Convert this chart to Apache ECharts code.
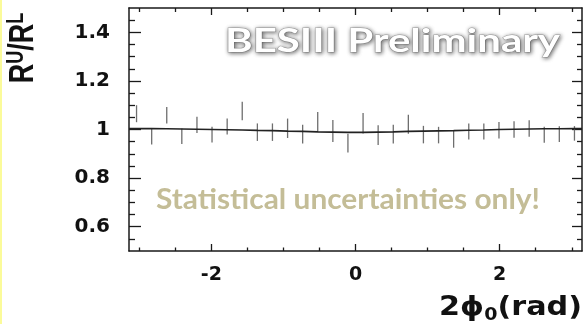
<!DOCTYPE html>
<html>
<head>
<meta charset="utf-8">
<script src="https://cdn.jsdelivr.net/npm/echarts@6/dist/echarts.min.js"></script>
<style>
  html, body { margin: 0; padding: 0; background: #fff; }
  #chart { width: 584px; height: 324px; }
</style>
</head>
<body>
<div id="chart"></div>
<script>
// Ratio R^U/R^L in 30 bins of 2phi0 over [-pi, pi]
const phiCenters = [
  -3.037, -2.827, -2.618, -2.409, -2.199, -1.990, -1.780, -1.571, -1.361, -1.152,
  -0.942, -0.733, -0.524, -0.314, -0.105, 0.105, 0.314, 0.524, 0.733, 0.942,
  1.152, 1.361, 1.571, 1.780, 1.990, 2.199, 2.409, 2.618, 2.827, 3.037
];
const ratioValues = [
  1.065, 0.971, 1.059, 0.972, 1.019, 0.979, 1.012, 1.076, 0.989, 0.989,
  1.005, 0.981, 1.031, 0.994, 0.944, 1.026, 0.977, 0.981, 1.022, 0.979,
  0.977, 0.961, 0.992, 0.992, 0.997, 1.000, 1.004, 0.978, 0.981, 0.984
];
const ratioErrors = [
  0.035, 0.033, 0.034, 0.032, 0.033, 0.032, 0.033, 0.038, 0.036, 0.036,
  0.040, 0.039, 0.041, 0.045, 0.039, 0.042, 0.041, 0.039, 0.039, 0.036,
  0.034, 0.036, 0.033, 0.033, 0.034, 0.034, 0.034, 0.033, 0.032, 0.030
];
// Fitted curve, sampled at the range edges and the bin centres
const fitPhi = [-3.1416].concat(phiCenters, [3.1416]);
const fitValues = [
  1.004,
  1.004, 1.004, 1.003, 1.002, 1.001, 1.000, 0.999, 0.998, 0.996, 0.995,
  0.993, 0.992, 0.990, 0.989, 0.988, 0.988, 0.989, 0.990, 0.992, 0.993,
  0.994, 0.995, 0.997, 0.998, 1.000, 1.001, 1.002, 1.003, 1.003, 1.004,
  1.004
];
// Tick positions
const xMajorTicks = [-2, 0, 2];
const xMinorTicks = [-3, -2.5, -1.5, -1, -0.5, 0.5, 1, 1.5, 2.5, 3];
const yMajorTicks = [0.6, 0.8, 1, 1.2, 1.4];
const yMinorTicks = [0.55, 0.65, 0.7, 0.75, 0.85, 0.9, 0.95, 1.05, 1.1, 1.15, 1.25, 1.3, 1.35, 1.45];

const X_MIN = -Math.PI, X_MAX = Math.PI, Y_MIN = 0.5, Y_MAX = 1.5;
const FRAME = '#1a1a1a';
const LABEL_FONT = 'DejaVu Sans';

function textWidth(text, font) {
  const ctx = document.createElement('canvas').getContext('2d');
  ctx.font = font;
  return ctx.measureText(text).width;
}

function xAxisDef(position, ticks, len, withLine, withLabels) {
  return {
    type: 'value', min: X_MIN, max: X_MAX, position: position,
    axisLine: { show: withLine, onZero: false, lineStyle: { color: FRAME, width: 1.5 } },
    axisTick: { show: true, inside: true, length: len, customValues: ticks,
                lineStyle: { color: FRAME, width: 1.3 } },
    axisLabel: withLabels ? {
      show: true, customValues: ticks, margin: 15,
      fontFamily: LABEL_FONT, fontWeight: 'bold', fontSize: 19, color: '#111',
      formatter: v => String(v)
    } : { show: false },
    splitLine: { show: false }
  };
}
function yAxisDef(position, ticks, len, withLine, withLabels) {
  return {
    type: 'value', min: Y_MIN, max: Y_MAX, position: position,
    axisLine: { show: withLine, onZero: false, lineStyle: { color: FRAME, width: 1.5 } },
    axisTick: { show: true, inside: true, length: len, customValues: ticks,
                lineStyle: { color: FRAME, width: 1.3 } },
    axisLabel: withLabels ? {
      show: true, customValues: ticks, margin: 19,
      fontFamily: LABEL_FONT, fontWeight: 'bold', fontSize: 20, color: '#111',
      formatter: v => String(+v.toFixed(2))
    } : { show: false },
    splitLine: { show: false }
  };
}

const chart = echarts.init(document.getElementById('chart'), null, { renderer: 'canvas' });

const markFont = 'bold 32px Lato';
const markText = 'BESIII Preliminary';
const markScale = 335 / textWidth(markText, markFont);
const noteFont = 'bold 28px Lato';
const noteText = 'Statistical uncertainties only!';
const noteScale = 384 / textWidth(noteText, noteFont);

chart.setOption({
  animation: false,
  backgroundColor: '#ffffff',
  grid: { left: 129, right: 2, top: 8, bottom: 73, containLabel: false },
  xAxis: [
    xAxisDef('bottom', xMajorTicks, 7, true, true),
    xAxisDef('bottom', xMinorTicks, 3.5, false, false),
    xAxisDef('top', xMajorTicks, 7, true, false),
    xAxisDef('top', xMinorTicks, 4, false, false)
  ],
  yAxis: [
    yAxisDef('left', yMajorTicks, 12, true, true),
    yAxisDef('left', yMinorTicks, 6, false, false),
    yAxisDef('right', yMajorTicks, 10, true, false),
    yAxisDef('right', yMinorTicks, 5, false, false)
  ],
  series: [
    {
      type: 'custom',
      xAxisIndex: 0, yAxisIndex: 0,
      data: phiCenters.map((p, i) => [p, ratioValues[i], ratioErrors[i]]),
      renderItem: function (params, api) {
        const x = api.value(0), y = api.value(1), e = api.value(2);
        const top = api.coord([x, y + e]);
        const bot = api.coord([x, y - e]);
        return {
          type: 'line',
          shape: { x1: top[0], y1: top[1], x2: bot[0], y2: bot[1] },
          style: { stroke: '#6e6e6e', lineWidth: 1.3 }
        };
      },
      z: 2
    },
    {
      type: 'line',
      xAxisIndex: 0, yAxisIndex: 0,
      data: fitPhi.map((p, i) => [p, fitValues[i]]),
      symbol: 'none',
      lineStyle: { color: '#222', width: 1.7 },
      z: 3
    }
  ],
  graphic: [
    { type: 'rect', left: 0, top: 0, shape: { width: 2, height: 324 },
      style: { fill: '#fbfb9a' }, silent: true },
    {
      type: 'text', x: 23, y: 48, rotation: Math.PI / 2, scaleY: 1.28,
      style: {
        text: '{m|R}{s|U}{m|/R}{s|L}',
        align: 'center', verticalAlign: 'middle',
        rich: {
          m: { fontFamily: 'Liberation Sans', fontWeight: 'bold', fontSize: 27, lineHeight: 28,
               verticalAlign: 'bottom', fill: '#111' },
          s: { fontFamily: 'Liberation Sans', fontWeight: 'bold', fontSize: 18, lineHeight: 17,
               verticalAlign: 'top', fill: '#111' }
        }
      }
    },
    {
      type: 'text', x: 582, y: 324, scaleX: 1.12,
      style: {
        text: '{m|2ϕ}{s|0}{m|(rad)}',
        align: 'right', verticalAlign: 'bottom',
        rich: {
          m: { fontFamily: 'DejaVu Sans', fontWeight: 'bold', fontSize: 27, lineHeight: 30,
               verticalAlign: 'top', fill: '#111' },
          s: { fontFamily: 'DejaVu Sans', fontWeight: 'bold', fontSize: 17, lineHeight: 18,
               padding: [25, 0, 0, 0], verticalAlign: 'bottom', fill: '#111' }
        }
      }
    },
    {
      type: 'text', x: 225, y: 42, scaleX: markScale, z: 10,
      style: {
        text: markText, font: markFont, align: 'left', verticalAlign: 'middle',
        fill: '#ffffff', stroke: 'rgba(170,170,170,0.9)', lineWidth: 1,
        textShadowColor: 'rgba(0,0,0,0.55)', textShadowBlur: 4,
        textShadowOffsetX: 1, textShadowOffsetY: 1
      }
    },
    {
      type: 'text', x: 156, y: 200, scaleX: noteScale, z: 10,
      style: {
        text: noteText, font: noteFont, align: 'left', verticalAlign: 'middle',
        fill: '#C4BD97'
      }
    }
  ]
});
</script>
</body>
</html>
